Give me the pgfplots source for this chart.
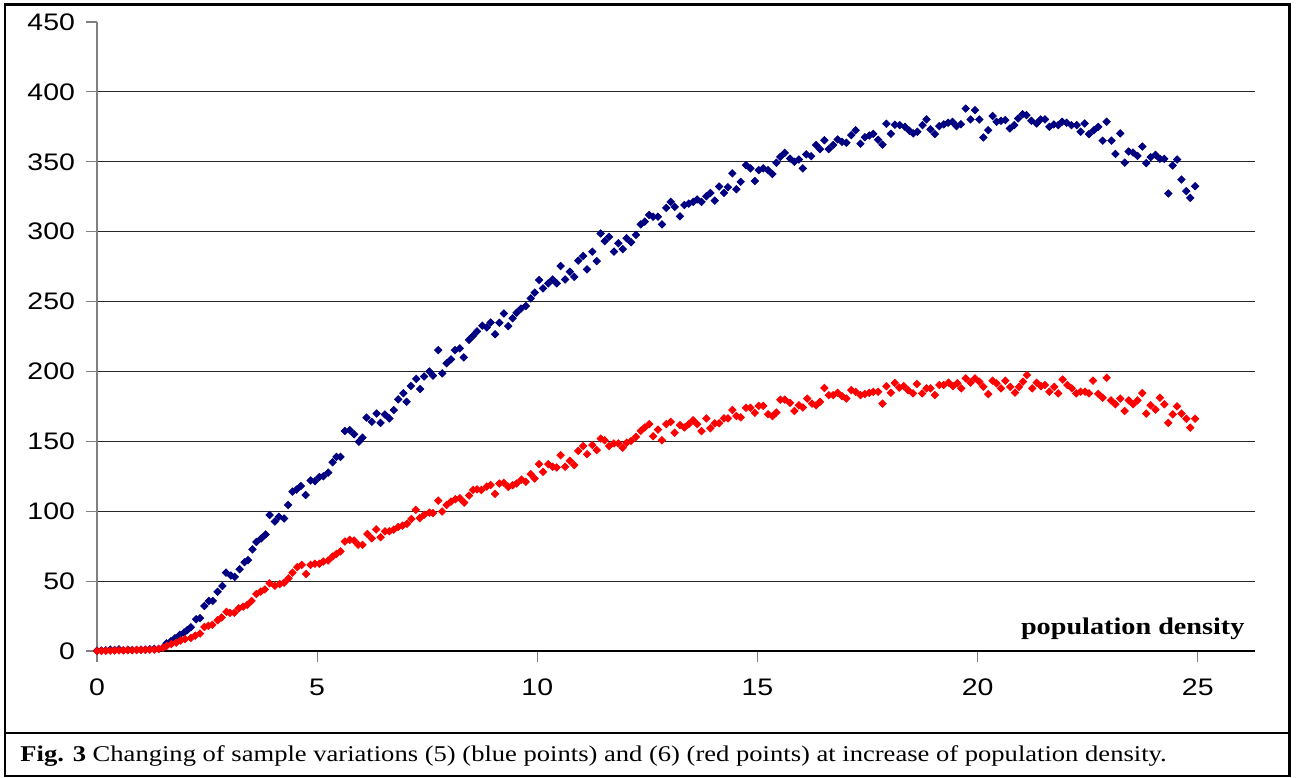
\documentclass[border=0pt]{standalone}
\usepackage{fontspec}
\setmainfont[FakeStretch=1.18]{Liberation Serif}
\newfontfamily\arialfont[FakeStretch=1.19]{Liberation Sans}
\usepackage{pgfplots}
\pgfplotsset{compat=1.18}
\definecolor{navypts}{RGB}{0,0,128}
\definecolor{redpts}{RGB}{255,0,0}
\begin{document}
\begin{tikzpicture}
\path[use as bounding box] (0,0) rectangle (648bp,389bp);
\draw[line width=1.3bp] (2.5bp,1bp) rectangle (644.8bp,386.6bp);
\draw[line width=1.1bp] (2.5bp,22.5bp) -- (644.8bp,22.5bp);
\node[anchor=base west, inner sep=0pt, font=\fontsize{11.3}{13}\selectfont] at (10bp,8.5bp) {\textbf{Fig. 3} Changing of sample variations (5) (blue points) and (6) (red points) at increase of population density.};
\begin{axis}[
  at={(48.5bp,63.5bp)}, anchor=south west,
  scale only axis, width=579bp, height=314.5bp,
  xmin=0, xmax=26.3, ymin=0, ymax=450,
  axis x line=bottom, axis y line=left,
  axis line style={-},
  x axis line style={black, line width=0.6bp},
  y axis line style={gray, line width=0.6bp},
  xtick={0,5,...,25},
  ytick={0,50,...,400},
  extra y ticks={450},
  extra y tick style={grid=none},
  ymajorgrids,
  major grid style={black!85, line width=0.55bp},
  tick align=outside,
  major tick length=5.5bp,
  tick style={gray, line width=0.6bp},
  ticklabel style={font=\arialfont\fontsize{12}{14}\selectfont, text=black},
  /pgf/number format/assume math mode=true,
  xticklabel style={yshift=-5bp},
  yticklabel style={xshift=-2bp},
  clip=false,
]
\addplot[only marks, mark=square*, mark size=1.3bp, color=navypts, mark options={rotate=45, draw=none, fill=navypts}] coordinates {
(0.0,0.2)(0.1,0.3)(0.2,0.5)(0.3,1.0)(0.4,0.8)(0.5,1.2)(0.6,0.6)(0.7,0.9)(0.8,0.7)(0.9,0.8)(1.0,1.0)(1.1,0.9)(1.2,1.2)(1.3,1.6)(1.4,1.5)(1.5,2.5)(1.58,5.5)(1.68,7)(1.77,9.1)(1.88,11.5)(1.98,13.2)(2.05,15)(2.13,17)(2.25,22.7)(2.34,23.5)(2.44,32.2)(2.54,35.8)(2.63,35.8)(2.74,42.4)(2.85,46.5)(2.93,56)(3.04,54)(3.13,53)(3.24,58.5)(3.35,63.5)(3.43,65)(3.53,72.7)(3.62,78)(3.73,80.5)(3.83,83.4)(3.92,97.3)(4.04,92.6)(4.13,96)(4.25,94.8)(4.34,104.4)(4.44,114)(4.53,115.5)(4.63,118)(4.74,111.6)(4.85,122)(4.95,121.5)(5.05,124.5)(5.14,125)(5.25,127.6)(5.35,135)(5.44,138.9)(5.53,138.9)(5.63,157.4)(5.74,158)(5.84,155)(5.95,149.7)(6.03,152.6)(6.12,167)(6.24,164)(6.35,169.9)(6.44,163.2)(6.54,169.2)(6.64,166.4)(6.74,172.4)(6.84,180)(6.96,184.4)(7.03,178.3)(7.13,189.6)(7.25,194.7)(7.34,187.4)(7.43,196.4)(7.55,200)(7.63,197)(7.75,215.3)(7.84,198.6)(7.94,205.8)(8.04,208.6)(8.13,215.3)(8.24,216.5)(8.33,210)(8.45,222.6)(8.54,225.5)(8.63,228.6)(8.75,232.7)(8.85,231.5)(8.94,235)(9.04,226.6)(9.14,234.8)(9.24,241.5)(9.34,232.4)(9.44,238)(9.53,242)(9.63,245)(9.74,246.8)(9.85,252.3)(9.94,256.4)(10.04,265.4)(10.13,259.4)(10.25,263)(10.35,265.8)(10.44,263)(10.53,275.4)(10.63,265.8)(10.74,271.3)(10.84,267.7)(10.93,279.3)(11.04,282.6)(11.13,273)(11.25,285.7)(11.35,279)(11.44,298.7)(11.53,293.2)(11.63,296.3)(11.74,285.7)(11.84,291.7)(11.94,287.5)(12.03,295.3)(12.13,292.4)(12.24,297.7)(12.35,305.2)(12.44,307.1)(12.54,311.9)(12.63,310.7)(12.74,310.7)(12.83,305.2)(12.93,317)(13.03,321.3)(13.12,317.7)(13.24,311)(13.34,319)(13.44,320)(13.54,321.3)(13.63,323)(13.73,321.3)(13.84,325.3)(13.93,327.7)(14.03,322.2)(14.13,332.3)(14.24,327.7)(14.33,331.8)(14.43,341.7)(14.52,330.3)(14.62,335.7)(14.74,347.6)(14.84,345.3)(14.94,336.2)(15.03,344)(15.13,345.3)(15.24,344)(15.34,341.2)(15.43,349.3)(15.52,353.5)(15.62,356.3)(15.74,352.3)(15.84,350)(15.94,351.6)(16.03,345.3)(16.11,355.3)(16.22,354)(16.33,362)(16.42,359)(16.52,365.4)(16.62,359)(16.72,362)(16.82,366)(16.92,364.3)(17.02,363.6)(17.13,369)(17.23,372.5)(17.34,362.9)(17.44,367.6)(17.54,368.8)(17.63,370)(17.74,365.8)(17.84,362.2)(17.93,377.2)(18.03,370)(18.12,376.5)(18.23,376.2)(18.35,375)(18.45,372.2)(18.54,370.3)(18.63,371.5)(18.75,376.2)(18.84,380.3)(18.93,373.1)(19.03,369.8)(19.13,375.5)(19.23,376.7)(19.33,377.9)(19.43,378.6)(19.52,375.5)(19.62,376.9)(19.73,388.1)(19.84,380.3)(19.94,386.9)(20.04,380.3)(20.13,367.4)(20.24,372.6)(20.34,382.7)(20.43,378.6)(20.53,379.3)(20.63,379.8)(20.73,373.8)(20.83,376.2)(20.92,381)(21.02,384)(21.11,383.3)(21.22,379.3)(21.34,377.4)(21.43,380.3)(21.53,380.3)(21.63,375)(21.73,376.7)(21.83,376.2)(21.92,378.6)(22.02,377.9)(22.13,376.2)(22.25,376.2)(22.34,371.5)(22.43,377.4)(22.53,369.8)(22.64,372.6)(22.74,375)(22.84,365.1)(22.93,378.6)(23.04,365.1)(23.13,355.6)(23.24,370.3)(23.34,349.4)(23.43,357.3)(23.53,356.6)(23.63,354.2)(23.74,360.9)(23.83,349)(23.93,353.3)(24.04,355)(24.14,352.1)(24.24,352.1)(24.33,327.3)(24.43,347.3)(24.53,351.6)(24.63,337.3)(24.74,329)(24.83,324.2)(24.94,332.5)
};
\addplot[only marks, mark=square*, mark size=1.3bp, color=redpts, mark options={rotate=45, draw=none, fill=redpts}] coordinates {
(0.0,0)(0.1,0.1)(0.2,0.2)(0.3,0.2)(0.4,0.3)(0.5,0.4)(0.6,0.5)(0.7,0.6)(0.8,0.6)(0.9,0.7)(1.0,0.8)(1.1,0.9)(1.2,1.0)(1.3,1.0)(1.4,1.5)(1.5,2.2)(1.58,3.6)(1.69,5)(1.8,6)(1.9,7.5)(2.0,8.5)(2.13,9.3)(2.23,11)(2.34,12.5)(2.44,17.2)(2.53,18)(2.62,18.7)(2.74,22)(2.83,24)(2.94,28)(3.02,27.3)(3.12,27.3)(3.22,30.5)(3.32,31.7)(3.41,33)(3.51,35.8)(3.62,40.8)(3.72,42.5)(3.81,44)(3.92,48.4)(4.04,46.7)(4.15,47.9)(4.25,48.8)(4.35,51.9)(4.44,56)(4.55,60)(4.65,61.6)(4.75,55.1)(4.85,61.6)(4.95,62.4)(5.05,62.4)(5.14,64)(5.25,64.7)(5.35,67.6)(5.44,69.5)(5.53,71.2)(5.63,78.3)(5.74,79.5)(5.84,79)(5.93,76)(6.03,76)(6.14,83.7)(6.24,80.6)(6.34,87)(6.44,81.4)(6.54,85.6)(6.64,85.6)(6.74,86.8)(6.84,88.7)(6.94,89.7)(7.04,91)(7.14,94.4)(7.24,101)(7.33,95)(7.43,97.4)(7.55,99)(7.63,98.6)(7.75,107.6)(7.84,99.8)(7.94,104.5)(8.04,106.9)(8.14,108.6)(8.24,109.3)(8.34,106.2)(8.45,111.2)(8.54,115.2)(8.63,115.7)(8.73,115.2)(8.85,117.6)(8.94,118.8)(9.04,112.4)(9.14,119.8)(9.24,120.3)(9.34,117.4)(9.44,118.6)(9.53,119.8)(9.64,122.6)(9.74,121)(9.85,126.5)(9.94,123.4)(10.04,133.7)(10.13,128.2)(10.25,133.7)(10.35,131.8)(10.44,131.3)(10.53,140.1)(10.63,131.8)(10.74,136.1)(10.84,133)(10.93,143.2)(11.04,146.6)(11.13,140.8)(11.25,147.3)(11.35,143.7)(11.44,152)(11.53,150.8)(11.63,146.6)(11.74,148.5)(11.84,148.5)(11.94,145.4)(12.03,149)(12.13,150.3)(12.24,153.2)(12.35,157.5)(12.44,159.9)(12.54,162.3)(12.63,153.7)(12.74,158.4)(12.83,150.8)(12.93,162.3)(13.03,163.9)(13.12,156.1)(13.24,161.6)(13.34,159.9)(13.44,162.3)(13.54,165.1)(13.63,162.3)(13.73,157.3)(13.84,166.4)(13.93,159.3)(14.03,162.9)(14.13,162.9)(14.24,166.4)(14.33,166.4)(14.43,172.4)(14.52,168.1)(14.62,167.1)(14.74,174)(14.84,174)(14.94,170.4)(15.03,175.4)(15.13,175.4)(15.24,169.4)(15.34,168)(15.43,170.6)(15.52,179.8)(15.62,179.8)(15.74,177.5)(15.84,171.7)(15.94,175.8)(16.03,174.2)(16.13,180.6)(16.24,177)(16.33,175.8)(16.42,178.2)(16.52,188.2)(16.62,183)(16.72,183)(16.82,184.7)(16.92,182.3)(17.02,180.6)(17.13,186.6)(17.23,185.4)(17.34,183)(17.44,183.8)(17.54,184.7)(17.63,185.4)(17.74,185.4)(17.84,177)(17.93,189.4)(18.03,184.7)(18.12,191.8)(18.22,188.4)(18.32,189.5)(18.42,186.6)(18.53,184.3)(18.62,191)(18.74,184.3)(18.84,187.9)(18.93,187.9)(19.03,183.1)(19.13,190.3)(19.23,190.3)(19.34,192)(19.44,189.5)(19.54,191.5)(19.63,187.9)(19.73,195)(19.84,192)(19.94,195)(20.04,192.7)(20.13,189)(20.24,183.8)(20.34,193.4)(20.43,191.5)(20.53,187.9)(20.63,193.4)(20.74,189)(20.85,184.8)(20.94,189)(21.03,192.7)(21.12,197.4)(21.24,187.9)(21.34,192)(21.44,189.5)(21.53,190.3)(21.63,185.5)(21.74,189)(21.83,184.3)(21.93,194.2)(22.04,190.3)(22.14,187.9)(22.24,184.3)(22.34,185.5)(22.44,185.5)(22.53,184.3)(22.62,193.4)(22.74,184)(22.84,181.2)(22.93,195.4)(23.03,179.3)(23.13,176.5)(23.24,180.5)(23.34,171.7)(23.43,179.3)(23.53,176.5)(23.63,179.3)(23.74,184.5)(23.83,169.8)(23.93,175.8)(24.04,172.7)(24.14,181.2)(24.24,176.5)(24.33,163.2)(24.43,169.3)(24.53,175)(24.63,169.8)(24.74,166.2)(24.83,159.8)(24.94,166.2)
};
\node[anchor=base east, inner sep=0pt, font=\bfseries\fontsize{12}{14}\selectfont] at (axis cs:26.07,12) {population density};
\end{axis}
\end{tikzpicture}
\end{document}
